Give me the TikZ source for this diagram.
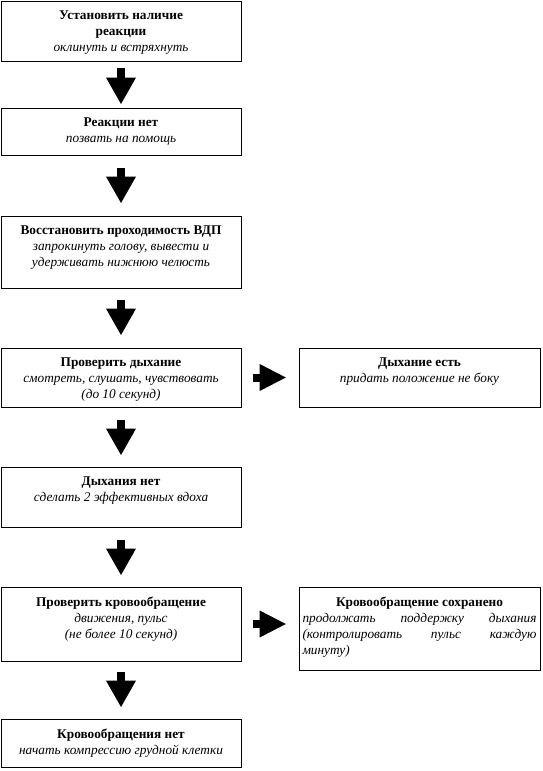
\documentclass[tikz,border=0pt]{standalone}
\usepackage{fontspec}
\setmainfont{Liberation Serif}
\usetikzlibrary{arrows.meta,calc}
\newcommand\myfs{\fontsize{13.3}{16}\selectfont}
\hyphenpenalty=10000
\exhyphenpenalty=10000
\tikzset{
  box/.style={draw, line width=1pt, minimum width=240pt, inner sep=0pt},
  txt/.style={anchor=north, inner sep=0pt, align=center, font=\myfs, yshift=-10pt},
  vblk/.style={line width=8pt, -{Triangle[width=28pt,length=27pt]}},
  hblk/.style={line width=8pt, -{Triangle[width=25pt,length=27pt]}},
}
\begin{document}
\begin{tikzpicture}[x=1pt,y=-1pt]
\useasboundingbox (0,0) rectangle (543,771);
% boxes
\node[box, minimum height=60pt] (b1) at (121,31) {};
\node[box, minimum height=47pt] (b2) at (121,131.5) {};
\node[box, minimum height=72pt] (b3) at (121,252) {};
\node[box, minimum height=59pt] (b4) at (121,377.5) {};
\node[box, minimum width=241pt, minimum height=59pt] (r1) at (419.5,377.5) {};
\node[box, minimum height=60pt] (b5) at (121,497) {};
\node[box, minimum height=74pt] (b6) at (121,624) {};
\node[box, minimum width=241pt, minimum height=83pt] (r2) at (419.5,628.5) {};
\node[box, minimum height=48pt] (b7) at (121,743) {};
% texts
\node[txt] (t1) at (b1.north) {\textbf{Установить наличие}\\\textbf{реакции}\\\textit{оклинуть и встряхнуть}};
\node[txt] (t2) at (b2.north) {\textbf{Реакции нет}\\\textit{позвать на помощь}};
\node[txt] (t3) at (b3.north) {\textbf{Восстановить проходимость ВДП}\\\textit{запрокинуть голову, вывести и}\\\textit{удерживать нижнюю челюсть}};
\node[txt] (t4) at (b4.north) {\textbf{Проверить дыхание}\\\textit{смотреть, слушать, чувствовать}\\\textit{(до 10 секунд)}};
\node[txt] (tr1) at (r1.north) {\textbf{Дыхание есть}\\\textit{придать положение не боку}};
\node[txt] (t5) at (b5.north) {\textbf{Дыхания нет}\\\textit{сделать 2 эффективных вдоха}};
\node[txt] (t6) at (b6.north) {\textbf{Проверить кровообращение}\\\textit{движения, пульс}\\\textit{(не более 10 секунд)}};
\node[txt, text width=234pt, align=justify] (tr2) at (r2.north) {\hfill\textbf{Кровообращение сохранено}\hfill\null\par\textit{продолжать поддержку дыхания (контролировать пульс каждую\linebreak минуту)}};
\node[txt] (t7) at (b7.north) {\textbf{Кровообращения нет}\\\textit{начать компрессию грудной клетки}};
% arrows
\draw[vblk, shorten <=6pt, shorten >=3pt] (b1) -- (b2);
\draw[vblk, shorten <=12pt, shorten >=12pt] (b2) -- (b3);
\draw[vblk, shorten <=11pt, shorten >=12pt] (b3) -- (b4);
\draw[vblk, shorten <=12pt, shorten >=11pt] (b4) -- (b5);
\draw[vblk, shorten <=12pt, shorten >=11pt] (b5) -- (b6);
\draw[vblk, shorten <=10pt, shorten >=11pt] (b6) -- (b7);
\draw[hblk, shorten <=11pt, shorten >=12pt] (b4) -- (r1);
\draw[hblk, shorten <=11pt, shorten >=12pt] (b6.east) -- (b6.east -| r2.west);
\end{tikzpicture}
\end{document}
